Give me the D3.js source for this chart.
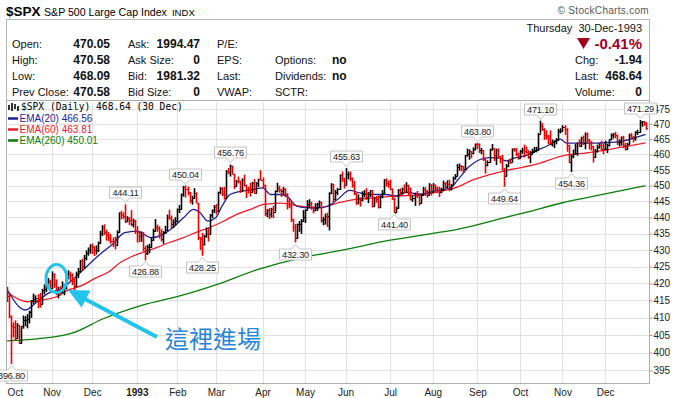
<!DOCTYPE html>
<html>
<head>
<meta charset="utf-8">
<script src="https://cdn.jsdelivr.net/npm/d3@7"></script>
<style>
  body { margin: 0; background: #fff; }
  svg { display: block; font-family: "Liberation Sans", Arial, sans-serif; }
</style>
</head>
<body>
<svg id="chart" width="674" height="398"></svg>
<script>
// Daily bars, 1-Oct-1992 .. 30-Dec-1993 (one entry per trading day)
const opens = [
  417.80,416.29,410.47,407.57,407.18,404.25,407.75,402.66,407.44,409.30,409.37,409.60,411.73,414.98,415.48,415.67,414.90,414.09,418.16,418.49,420.13,420.86,
  418.68,422.75,419.92,417.11,418.34,417.58,418.59,418.62,422.20,422.87,422.43,420.68,419.27,422.85,423.61,426.65,425.12,427.59,429.19,430.16,
  431.35,430.78,429.89,429.98,432.06,435.31,436.99,435.65,434.64,433.73,432.84,432.57,431.52,435.43,441.28,440.70,440.31,439.03,439.77,439.15,437.98,438.82,
  435.71,435.38,434.34,434.52,430.73,429.05,430.95,431.04,433.03,435.94,437.15,436.84,435.13,433.37,435.49,436.11,440.01,439.95,438.11,438.66,
  438.78,442.52,442.55,447.20,449.56,448.93,447.85,445.33,446.23,447.66,444.58,433.91,433.30,431.90,434.22,435.24,434.80,440.87,442.34,
  443.38,442.01,447.90,449.26,447.34,446.11,454.71,454.40,456.33,453.72,449.83,451.43,451.37,448.31,451.89,450.18,448.88,448.76,448.07,450.88,447.78,450.77,451.97,
  451.67,450.30,441.39,442.29,441.16,442.73,441.84,448.37,449.22,448.66,448.40,448.94,447.46,445.10,443.63,439.46,437.03,433.54,438.01,438.02,438.89,
  440.19,442.46,444.05,444.52,443.26,442.31,442.80,444.36,444.80,439.23,439.56,440.37,440.32,447.57,450.59,445.84,448.00,448.85,453.44,452.41,
  450.19,453.83,453.85,452.49,450.06,447.69,444.71,445.78,445.38,447.26,447.71,446.27,447.43,448.54,443.68,446.22,445.93,443.19,446.62,447.60,451.85,450.69,
  450.53,449.02,445.84,441.60,442.83,448.64,448.11,448.98,448.09,450.08,449.22,445.75,446.03,447.31,447.18,444.51,447.10,449.09,448.24,447.19,450.24,
  448.13,450.15,449.27,448.54,448.13,448.68,450.72,449.45,450.46,448.96,450.14,452.38,453.13,456.04,456.43,456.16,455.23,459.77,460.13,461.04,460.54,461.90,
  463.56,463.55,461.34,461.34,458.52,456.65,457.50,461.72,462.06,459.90,461.60,459.43,458.83,455.05,452.95,456.20,457.74,457.63,461.80,461.53,460.11,
  458.93,461.28,461.34,461.20,460.74,459.18,460.31,460.88,461.12,461.49,466.83,469.50,468.45,466.21,466.07,465.36,463.27,464.20,464.30,464.61,467.73,
  467.83,469.10,468.44,463.02,457.49,459.57,460.21,460.33,463.72,462.64,465.39,463.75,466.74,464.81,463.62,462.60,459.13,461.03,462.36,463.06,461.90,
  461.79,461.89,463.11,464.89,466.43,466.76,466.29,463.93,463.93,465.70,463.06,461.84,463.34,466.38,465.85,465.30,467.32,467.38,470.61,470.94,470.05
];
const highs = [
  419.0,416.9,410.6,408.6,409.2,408.4,407.9,407.5,410.6,410.4,411.0,412.0,415.1,417.0,416.5,416.8,417.2,418.4,419.7,420.4,421.6,421.1,
  423.6,423.0,421.2,419.0,419.2,420.6,419.8,422.5,423.9,423.5,423.0,421.4,423.5,424.6,427.0,427.4,428.5,429.9,430.8,431.8,
  432.0,431.2,431.4,432.6,435.9,437.6,437.9,436.2,435.5,434.9,433.8,434.1,436.0,441.6,442.1,441.6,444.11,440.4,440.1,442.3,439.6,439.3,
  437.3,435.8,435.7,435.5,431.2,431.6,431.9,433.9,436.5,439.5,437.8,437.3,436.4,435.8,437.4,440.9,442.4,440.6,439.4,440.1,
  442.8,443.9,447.5,449.9,450.04,449.7,448.0,446.8,449.2,447.9,444.6,434.0,435.3,434.7,436.9,436.9,441.1,442.5,443.9,
  444.2,448.1,449.5,449.5,449.6,454.9,455.6,456.76,456.4,453.8,451.8,452.9,451.6,452.3,453.5,450.3,449.7,450.9,451.2,452.1,451.1,452.2,454.9,
  452.6,450.3,442.6,443.0,443.0,443.7,448.5,450.9,450.0,449.0,449.6,449.2,447.6,445.9,445.0,439.6,438.0,438.1,438.9,439.5,442.3,
  442.6,445.4,445.7,444.9,443.5,444.4,444.6,445.3,444.9,440.2,441.2,441.5,447.9,450.8,450.6,448.6,449.3,453.6,454.5,452.5,
  455.63,454.5,454.5,452.6,451.5,447.8,447.2,446.3,448.2,448.6,449.2,448.0,448.6,448.6,446.3,446.7,446.9,446.9,448.6,452.1,452.3,451.6,
  451.9,449.1,446.2,443.4,448.9,449.1,449.4,450.4,451.1,450.3,449.4,447.0,447.8,448.3,447.6,447.5,449.6,449.5,448.6,450.8,450.5,
  450.8,450.4,449.7,449.6,449.3,451.6,451.1,451.7,451.9,450.5,452.9,453.7,456.9,457.1,456.6,456.3,459.8,461.9,461.7,461.1,462.3,463.6,
  463.80,463.6,462.1,461.4,458.6,458.1,461.9,463.4,462.1,461.9,462.0,459.5,459.9,455.6,456.9,458.0,458.6,462.0,462.1,462.1,460.6,
  461.5,462.2,463.2,462.6,461.4,461.1,461.9,462.5,462.5,467.0,471.10,470.3,468.6,467.9,466.4,467.9,464.9,464.6,465.4,468.4,468.6,
  469.6,469.6,468.6,463.1,459.9,461.6,463.4,463.9,464.9,465.8,466.2,467.2,467.2,465.1,464.4,462.7,461.8,463.2,463.6,464.5,463.4,
  464.5,463.5,465.0,466.9,467.0,467.4,466.5,464.9,465.9,466.1,463.8,463.8,466.8,467.0,466.1,467.6,468.1,471.29,471.0,471.0,470.58
];
const lows = [
  414.5,409.8,396.80,404.3,403.5,404.2,402.4,402.6,406.8,407.5,406.9,408.3,409.9,414.0,414.4,412.7,412.9,413.9,416.8,417.5,419.5,417.7,
  418.3,418.7,416.6,415.6,416.4,416.9,416.5,418.2,421.2,420.6,419.5,417.9,419.0,421.6,423.2,423.9,424.3,426.9,428.3,428.9,
  428.8,428.2,428.7,429.4,431.9,434.3,434.6,432.9,432.7,431.9,430.9,430.2,431.3,435.3,439.4,439.6,438.3,438.5,437.7,437.3,436.9,434.9,
  432.3,432.4,432.5,429.6,426.88,428.5,429.0,430.7,432.8,435.7,435.6,433.5,432.6,431.9,434.9,436.0,439.3,436.7,436.8,437.5,
  438.5,441.4,442.5,446.5,446.2,446.9,444.4,444.0,446.1,444.4,433.0,430.0,428.25,431.4,433.8,432.6,434.7,439.8,441.4,
  440.9,441.9,447.3,446.7,445.6,446.1,453.6,452.9,453.5,448.9,449.8,450.7,447.7,448.1,449.7,446.1,447.5,446.6,447.9,447.4,447.7,449.6,451.6,
  449.0,440.4,440.1,439.5,440.0,439.8,441.8,447.9,447.8,446.4,447.0,446.3,442.5,442.9,438.6,435.6,432.30,433.4,435.6,434.9,438.6,
  438.3,442.4,443.1,442.4,441.3,441.9,442.0,443.0,438.4,437.6,437.8,437.1,436.0,447.3,444.6,445.3,447.0,448.7,451.2,449.1,
  450.1,452.0,451.4,449.4,447.0,443.9,444.1,443.4,445.0,446.3,445.5,444.5,446.4,443.1,443.5,444.6,442.8,442.9,446.0,447.5,449.7,449.3,
  448.6,445.5,441.40,441.5,442.8,446.8,447.2,447.6,447.9,446.9,445.3,444.9,443.6,446.1,443.7,444.4,446.9,446.7,446.2,447.1,446.9,
  448.1,447.7,447.6,446.4,447.6,448.3,448.9,449.4,448.2,448.5,450.1,451.9,453.1,454.8,454.6,453.9,455.2,459.3,458.3,458.8,460.1,461.3,
  461.8,460.5,460.1,457.9,453.8,456.2,457.4,461.2,457.9,456.6,458.9,457.1,454.9,449.64,452.9,455.9,456.9,457.6,460.9,459.5,458.3,
  458.9,460.2,459.0,460.3,458.6,457.2,460.2,460.7,460.7,461.4,466.8,467.7,464.8,464.9,463.4,463.0,462.6,462.1,463.3,464.5,466.9,
  467.6,466.4,460.9,457.2,454.36,458.8,460.0,459.6,462.4,462.5,463.1,461.7,463.6,461.6,461.3,457.4,458.9,460.6,461.9,461.3,460.1,
  461.6,460.5,462.6,464.6,465.2,465.3,463.1,462.6,462.9,462.2,461.3,461.4,463.3,465.0,463.9,464.5,466.4,467.3,469.1,469.4,468.09
];
const closes = [
  416.29,410.47,407.57,407.18,404.25,407.75,402.66,407.44,409.30,409.37,409.60,411.73,414.98,415.48,415.67,414.90,414.09,418.16,418.49,420.13,420.86,418.68,
  422.75,419.92,417.11,418.34,417.58,418.59,418.62,422.20,422.87,422.43,420.68,419.27,422.85,423.61,426.65,425.12,427.59,429.19,430.16,431.35,
  430.78,429.89,429.98,432.06,435.31,436.99,435.65,434.64,433.73,432.84,432.57,431.52,435.43,441.28,440.70,440.31,439.03,439.77,439.15,437.98,438.82,435.71,
  435.38,434.34,434.52,430.73,429.05,430.95,431.04,433.03,435.94,437.15,436.84,435.13,433.37,435.49,436.11,440.01,439.95,438.11,438.66,438.78,
  442.52,442.55,447.20,449.56,448.93,447.85,445.33,446.23,447.66,444.58,433.91,433.30,431.90,434.22,435.24,434.80,440.87,442.34,443.38,
  442.01,447.90,449.26,447.34,446.11,454.71,454.40,456.33,453.72,449.83,451.43,451.37,448.31,451.89,450.18,448.88,448.76,448.07,450.88,447.78,450.77,451.97,451.67,
  450.30,441.39,442.29,441.16,442.73,441.84,448.37,449.22,448.66,448.40,448.94,447.46,445.10,443.63,439.46,437.03,433.54,438.01,438.02,438.89,440.19,
  442.46,444.05,444.52,443.26,442.31,442.80,444.36,444.80,439.23,439.56,440.37,440.32,447.57,450.59,445.84,448.00,448.85,453.44,452.41,450.19,
  453.83,453.85,452.49,450.06,447.69,444.71,445.78,445.38,447.26,447.71,446.27,447.43,448.54,443.68,446.22,445.93,443.19,446.62,447.60,451.85,450.69,450.53,
  449.02,445.84,441.43,442.83,448.64,448.11,448.98,448.09,450.08,449.22,445.75,446.03,447.31,447.18,444.51,447.10,449.09,448.24,447.19,450.24,448.13,
  450.15,449.27,448.54,448.13,448.68,450.72,449.45,450.46,448.96,450.14,452.38,453.13,456.04,456.43,456.16,455.23,459.77,460.13,461.04,460.54,461.90,463.56,
  463.55,461.34,461.34,458.52,456.65,457.50,461.72,462.06,459.90,461.60,459.43,458.83,455.05,452.95,456.20,457.74,457.63,461.80,461.53,460.11,458.93,
  461.28,461.34,461.20,460.74,459.18,460.31,460.88,461.12,461.49,466.83,469.50,468.45,466.21,466.07,465.36,463.27,464.20,464.30,464.61,467.73,467.83,
  469.10,468.44,463.02,457.49,459.57,460.21,460.33,463.72,462.64,465.39,463.75,466.74,464.81,463.62,462.60,459.13,461.03,462.36,463.06,461.90,461.79,
  461.89,463.11,464.89,466.43,466.76,466.29,463.93,463.93,465.70,463.06,461.84,463.34,466.38,465.85,465.30,467.32,467.38,470.61,470.94,470.58,468.64
];

// Moving averages: [bar index, value]
const ema20 = [[0,418.2],[9,412.2],[15,414.7],[20,417.0],[26,418.2],[32,420.9],[38,424.3],[45,428.3],[52,431.8],[58,435.3],[64,435.8],[71,433.8],[77,434.8],[82,437.0],[87,439.9],[92,442.5],[95,441.6],[99,438.9],[103,440.0],[106,443.5],[110,447.2],[115,448.2],[121,448.7],[126,449.3],[130,447.2],[135,447.2],[138,446.7],[143,443.5],[148,443.0],[153,443.0],[158,443.5],[163,445.6],[169,448.5],[174,447.7],[180,447.2],[187,447.2],[192,446.7],[197,447.9],[204,447.2],[210,448.2],[219,449.4],[223,452.4],[228,456.1],[233,458.3],[238,459.0],[243,458.8],[246,457.9],[250,458.8],[256,459.7],[260,461.0],[266,462.6],[273,465.0],[276,463.7],[281,463.7],[291,463.7],[296,463.9],[302,464.2],[309,465.3],[315,466.56]];
const ema60 = [[0,417.5],[5,415.5],[10,414.6],[17,415.1],[24,416.0],[30,418.0],[37,419.4],[43,421.4],[50,423.4],[56,426.3],[61,427.9],[67,429.3],[74,430.8],[80,432.3],[87,433.8],[93,435.3],[100,436.9],[107,438.9],[113,440.9],[120,442.5],[126,444.0],[135,444.5],[145,443.5],[154,443.0],[163,444.5],[171,445.6],[181,446.1],[190,446.7],[200,446.9],[210,447.7],[222,449.5],[230,451.9],[238,453.5],[246,454.8],[254,455.8],[263,457.2],[273,459.4],[286,460.5],[296,461.5],[307,462.8],[315,463.81]];
const ema260 = [[0,403.3],[15,403.9],[32,405.5],[48,409.8],[66,413.5],[87,416.6],[104,419.8],[123,424.0],[144,427.5],[164,429.8],[189,433.0],[210,435.1],[221,436.2],[247,440.2],[256,441.6],[274,444.6],[286,446.2],[315,450.01]];

// Axis: first trading day of each month, and price gridlines
const monthStarts = [0,22,42,64,84,103,126,147,167,189,210,232,253,274,295];
const monthLabels = ["Oct","Nov","Dec","1993","Feb","Mar","Apr","May","Jun","Jul","Aug","Sep","Oct","Nov","Dec"];
const yTicks = [395,400,405,410,415,420,425,430,435,440,445,450,455,460,465,470,475];

// Swing high / low price labels
const highMarks = [58,88,110,167,232,263,312];
const lowMarks = [2,68,96,142,191,245,278];

// Quote panel
const rowLabelsA = ["Open:","High:","Low:","Prev Close:"];
const rowValuesA = ["470.05","470.58","468.09","470.58"];
const rowLabelsB = ["Ask:","Ask Size:","Bid:","Bid Size:"];
const rowValuesB = ["1994.47","0","1981.32","0"];
const rowLabelsC = ["P/E:","EPS:","Last:","VWAP:"];
const rowLabelsD = ["","Options:","Dividends:","SCTR:"];
const rowValuesD = ["","no","no",""];
const rowLabelsE = ["Chg:","Last:","Volume:"];
const rowValuesE = ["-1.94","468.64","0"];

const svg = d3.select("#chart");
const plot = {left: 6.5, right: 649.5, top: 100.5, bottom: 383.5};

const x = d3.scaleLinear().domain([0, 315]).range([7.1, 645.6]);
const y = d3.scaleLog().domain([395, 475]).range([370.4, 109.0]);
const px = v => Math.round(v) + 0.5;

const NAVY = "#1e1e96", RED = "#ee1c2e", GREEN = "#0b7d0b", CRIMSON = "#a3001e";

// Title line
svg.append("text").attr("x", 6).attr("y", 16).attr("font-size", 13.5).attr("font-weight", "bold").text("$SPX");
const sub = svg.append("text").attr("x", 44).attr("y", 16).attr("font-size", 10.6).text("S&P 500 Large Cap Index");
svg.append("text").attr("x", 44 + sub.node().getComputedTextLength() + 5).attr("y", 16)
    .attr("font-size", 9.6).text("INDX");
svg.append("text").attr("x", 649).attr("y", 14).attr("font-size", 10).attr("text-anchor", "end")
    .attr("fill", "#555").attr("letter-spacing", 0.3).text("\u00a9 StockCharts.com");

// Quote box
svg.append("rect").attr("x", 6.5).attr("y", 19.5).attr("width", 643).attr("height", 81)
    .attr("fill", "none").attr("stroke", "#b8b8b8");

const rowY = [48, 64, 80, 96];
const label = (tx, ty, s) => svg.append("text").attr("x", tx).attr("y", ty).attr("font-size", 11).attr("fill", "#111").text(s);
const value = (tx, ty, s) => svg.append("text").attr("x", tx).attr("y", ty).attr("font-size", 12)
    .attr("font-weight", "bold").attr("text-anchor", "end").attr("fill", "#111").text(s);

rowY.forEach((ry, i) => {
    label(12, ry, rowLabelsA[i]); value(110, ry, rowValuesA[i]);
    label(128, ry, rowLabelsB[i]); value(200, ry, rowValuesB[i]);
    label(217, ry, rowLabelsC[i]);
    if (rowLabelsD[i]) label(275, ry, rowLabelsD[i]);
    if (rowValuesD[i]) svg.append("text").attr("x", 332).attr("y", ry).attr("font-size", 12)
        .attr("font-weight", "bold").attr("fill", "#111").text(rowValuesD[i]);
});
rowLabelsE.forEach((s, i) => {
    label(575, rowY[i + 1], s);
    value(642, rowY[i + 1], rowValuesE[i]);
});
svg.append("text").attr("x", 642).attr("y", 32).attr("font-size", 11).attr("text-anchor", "end")
    .attr("fill", "#111").text("Thursday\u00a0\u00a030-Dec-1993");
svg.append("polygon").attr("points", "577,38 590,38 583.5,49").attr("fill", CRIMSON);
svg.append("text").attr("x", 642).attr("y", 48.5).attr("font-size", 15).attr("font-weight", "bold")
    .attr("text-anchor", "end").attr("fill", CRIMSON).text("-0.41%");

// Plot frame and grid
svg.append("rect").attr("x", plot.left).attr("y", plot.top)
    .attr("width", plot.right - plot.left).attr("height", plot.bottom - plot.top)
    .attr("fill", "#fff").attr("stroke", "#b0b0b0");

const grid = svg.append("g").attr("stroke", "#e1e1e1").attr("shape-rendering", "crispEdges");
yTicks.forEach(v => {
    grid.append("line").attr("x1", plot.left + 1).attr("x2", plot.right - 1)
        .attr("y1", px(y(v))).attr("y2", px(y(v)));
});
monthStarts.slice(1).forEach(i => {
    grid.append("line").attr("x1", px(x(i))).attr("x2", px(x(i)))
        .attr("y1", plot.top + 1).attr("y2", plot.bottom - 1);
});

// Axes
const yAxis = svg.append("g").attr("transform", `translate(${plot.right},0)`)
    .call(d3.axisRight(y).tickValues(yTicks).tickFormat(d3.format("d")).tickSize(3).tickPadding(1));
yAxis.select(".domain").remove();
yAxis.selectAll("line").attr("stroke", "#999");
yAxis.selectAll("text").attr("font-size", 10).attr("fill", "#222").attr("font-family", "Liberation Sans, Arial, sans-serif");

const xAxis = svg.append("g").attr("transform", `translate(0,${plot.bottom})`)
    .call(d3.axisBottom(x).tickValues(monthStarts).tickFormat((d, i) => monthLabels[i]).tickSize(0).tickPadding(5.5));
xAxis.select(".domain").remove();
xAxis.selectAll("text").attr("font-size", 10).attr("fill", "#222").attr("font-family", "Liberation Sans, Arial, sans-serif")
    .attr("font-weight", (d, i) => monthLabels[i] === "1993" ? "bold" : null)
    .attr("text-anchor", (d, i) => i === 0 ? "start" : "middle");

// Clip for price marks
svg.append("clipPath").attr("id", "plotClip").append("rect")
    .attr("x", plot.left + 0.5).attr("y", plot.top + 0.5)
    .attr("width", plot.right - plot.left - 1).attr("height", plot.bottom - plot.top - 1);
const area = svg.append("g").attr("clip-path", "url(#plotClip)");

// EMA lines
const emaLine = d3.line().x(d => x(d[0])).y(d => y(d[1])).curve(d3.curveMonotoneX);
[[ema260, GREEN], [ema60, RED], [ema20, NAVY]].forEach(([pts, col]) => {
    area.append("path").datum(pts).attr("d", emaLine)
        .attr("fill", "none").attr("stroke", col).attr("stroke-width", 1.3);
});

// OHLC bars, black when close >= previous close
const bars = area.append("g");
closes.forEach((c, i) => {
    const prev = i ? closes[i - 1] : opens[i];
    const bx = Math.round(x(i)) + 0.5;
    const yo = px(y(opens[i])), yc = px(y(c));
    const col = c >= prev ? "#000" : "#ee0000";
    bars.append("line").attr("x1", bx).attr("x2", bx).attr("y1", y(highs[i])).attr("y2", y(lows[i]))
        .attr("stroke", col).attr("stroke-width", 1.6);
    bars.append("path").attr("d", `M${bx - 1.5},${yo}H${bx}M${bx},${yc}H${bx + 1.8}`)
        .attr("fill", "none").attr("stroke", col).attr("stroke-width", 1).attr("shape-rendering", "crispEdges");
});

// Legend
const legend = svg.append("g");
[[9, 3, 8], [12, 1, 9], [15, 2, 7], [18, 4, 9]].forEach(([lx, t, b]) => {
    legend.append("line").attr("x1", lx).attr("x2", lx).attr("y1", 102 + t).attr("y2", 102 + b)
        .attr("stroke", "#000").attr("stroke-width", 1.6);
});
legend.append("text").attr("x", 21).attr("y", 110).attr("font-size", 9.6)
    .attr("font-family", "DejaVu Sans Mono, monospace").text("$SPX (Daily) 468.64 (30 Dec)");
[["EMA(20) 466.56", NAVY], ["EMA(60) 463.81", RED], ["EMA(260) 450.01", GREEN]].forEach(([s, col], i) => {
    const ly = 118.5 + i * 11;
    legend.append("line").attr("x1", 8).attr("x2", 18).attr("y1", ly).attr("y2", ly)
        .attr("stroke", col).attr("stroke-width", 2.5);
    legend.append("text").attr("x", 19.5).attr("y", ly + 3.6).attr("font-size", 10).attr("fill", col).text(s);
});

// Price labels with a small pointer
function priceTag(i, isHigh) {
    const v = isHigh ? highs[i] : lows[i];
    const cx = Math.round(x(i)) + 0.5;
    const dir = isHigh ? -1 : 1;
    const tip = Math.round(y(v)) + dir * 1.5;
    const base = tip + dir * 4.5;
    const far = base + dir * 11;
    const g = svg.append("g");
    const t = g.append("text").attr("x", cx).attr("y", (base + far) / 2 + 3.2)
        .attr("text-anchor", "middle").attr("font-size", 9.2).attr("letter-spacing", -0.2)
        .attr("fill", "#222").text(v.toFixed(2));
    const hw = Math.round((t.node().getComputedTextLength() + 5) / 2);
    g.insert("path", "text")
        .attr("d", `M${cx},${tip}L${cx + 4},${base}H${cx + hw}V${far}H${cx - hw}V${base}H${cx - 4}Z`)
        .attr("fill", "#fff").attr("stroke", "#c4c4c4");
}
highMarks.forEach(i => priceTag(i, true));
lowMarks.forEach(i => priceTag(i, false));

// Hand-drawn callout
const CYAN = "#22c4ec";
svg.append("ellipse").attr("cx", 56.5).attr("cy", 278.5).attr("rx", 10.5).attr("ry", 14)
    .attr("fill", "none").attr("stroke", CYAN).attr("stroke-width", 3);
svg.append("line").attr("x1", 157).attr("y1", 337).attr("x2", 84).attr("y2", 298.5)
    .attr("stroke", CYAN).attr("stroke-width", 4);
svg.append("polygon").attr("points", "68,290 90.5,290.5 81.5,307.5").attr("fill", CYAN);
svg.append("text").attr("x", 165).attr("y", 348).attr("font-size", 24)
    .attr("font-family", "Noto Sans CJK TC, sans-serif").attr("fill", "#2a86d8").text("這裡進場");
</script>
</body>
</html>
